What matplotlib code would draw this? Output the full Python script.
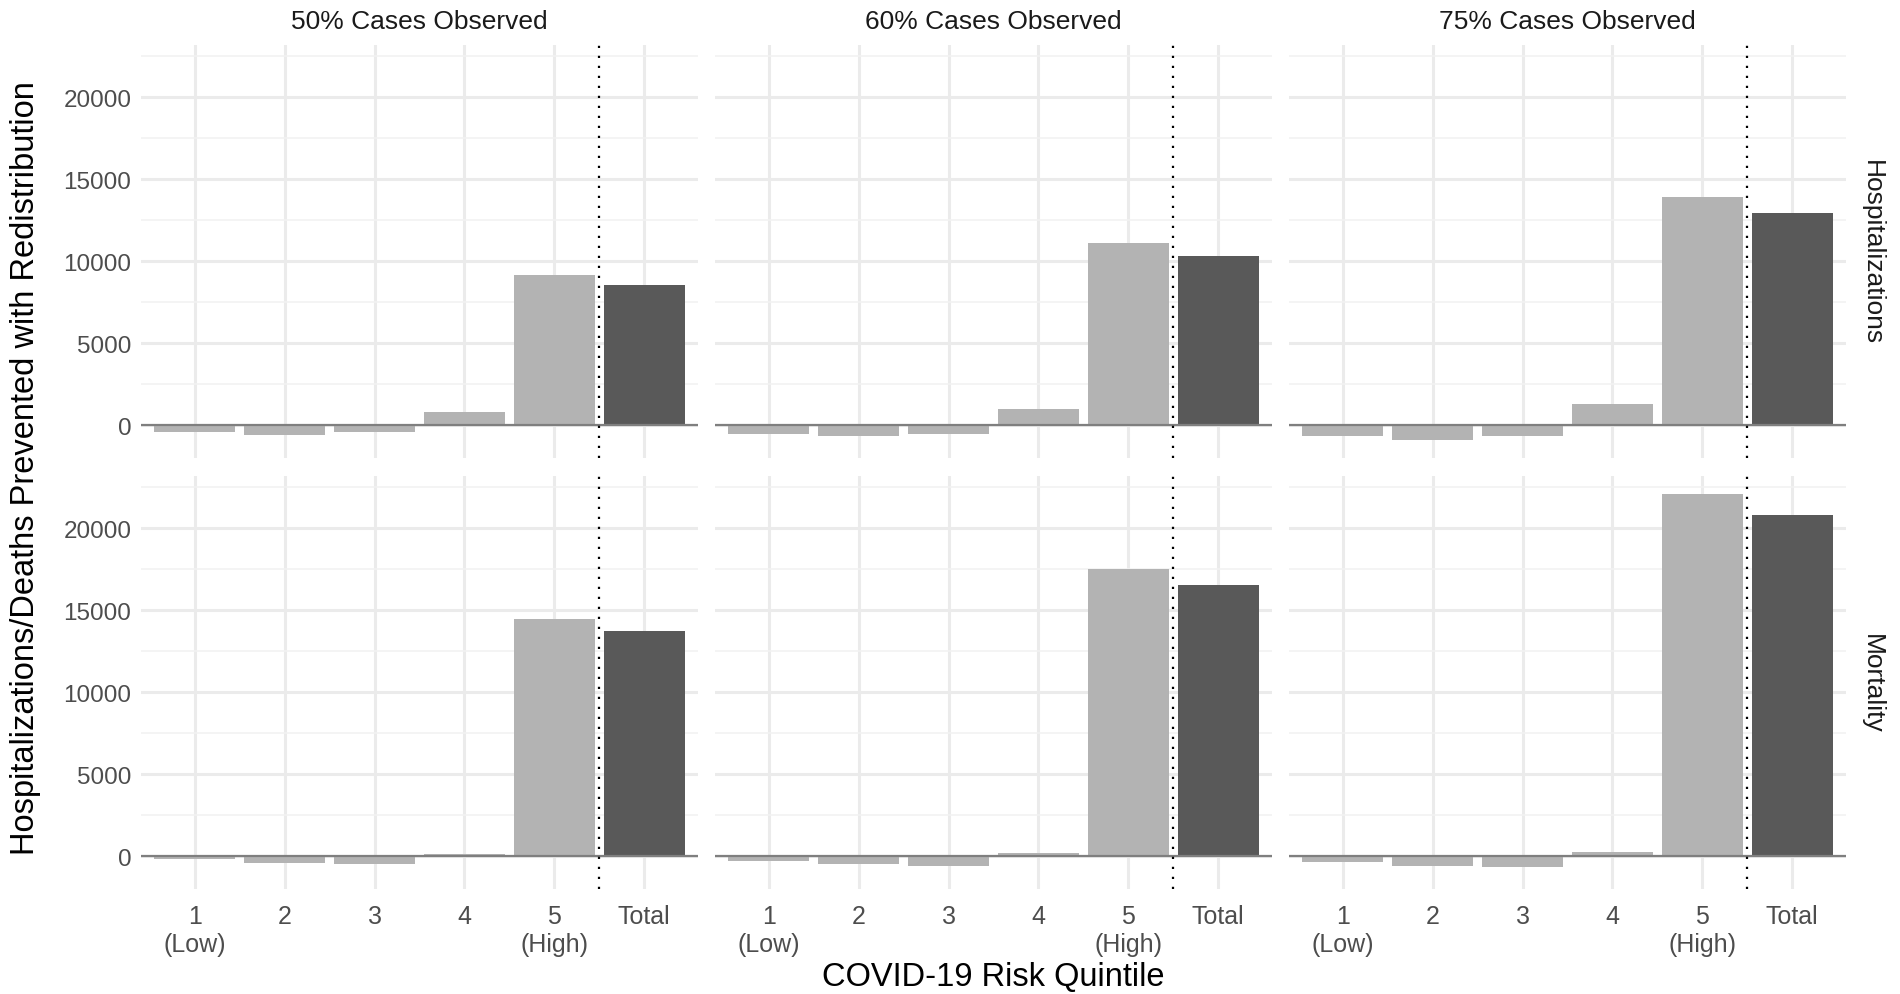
import numpy as np
import matplotlib.pyplot as plt

plt.rcParams['font.family'] = ['Liberation Sans', 'DejaVu Sans']

categories = ['1\n(Low)', '2', '3', '4', '5\n(High)', 'Total']
observed = ['50% Cases Observed', '60% Cases Observed', '75% Cases Observed']
outcomes = ['Hospitalizations', 'Mortality']

# values, one list per panel
hosp_50 = [-400, -570, -400, 810, 9170, 8580]
hosp_60 = [-510, -670, -510, 1020, 11100, 10350]
hosp_75 = [-670, -900, -670, 1280, 13900, 12940]
mort_50 = [-160, -370, -470, 160, 14460, 13730]
mort_60 = [-245, -450, -570, 230, 17490, 16530]
mort_75 = [-305, -570, -670, 290, 22070, 20810]

panels = [[hosp_50, hosp_60, hosp_75], [mort_50, mort_60, mort_75]]

W, H = 1900, 995
fig = plt.figure(figsize=(19, 9.95), dpi=100)

lefts = [141, 715, 1289]
pw = 557
tops = [46, 477]
ph = 413

allv = np.concatenate([np.array(p) for row in panels for p in row])
span = allv.max() - allv.min()
ylo, yhi = allv.min() - 0.047 * span, allv.max() + 0.048 * span

x = np.arange(len(categories))
colors = ['#B3B3B3'] * 5 + ['#595959']

for r, row in enumerate(panels):
    for c, vals in enumerate(row):
        ax = fig.add_axes([lefts[c] / W, 1 - (tops[r] + ph) / H, pw / W, ph / H])
        ax.set_xlim(-0.6, len(categories) - 0.4)
        ax.set_ylim(ylo, yhi)
        for s in ax.spines.values():
            s.set_visible(False)
        ax.set_yticks([0, 5000, 10000, 15000, 20000])
        ax.set_yticks([2500, 7500, 12500, 17500, 22500], minor=True)
        ax.set_xticks(x)
        ax.grid(True, which='major', color='#EBEBEB', lw=2.2)
        ax.grid(True, which='minor', axis='y', color='#F2F2F2', lw=1.2)
        ax.set_axisbelow(True)
        ax.tick_params(which='both', length=0)
        ax.tick_params(axis='y', labelsize=17.5, labelcolor='#4D4D4D', pad=7)
        ax.tick_params(axis='x', labelsize=18, labelcolor='#4D4D4D', pad=11)
        if c == 0:
            ax.set_yticklabels(['0', '5000', '10000', '15000', '20000'])
        else:
            ax.set_yticklabels([])
        if r == 1:
            ax.set_xticklabels(categories, linespacing=1.2, va='top')
        else:
            ax.set_xticklabels([])
        ax.bar(x, vals, width=0.9, color=colors, zorder=2)
        ax.axhline(0, color='#7F7F7F', lw=1.6, zorder=3)
        ax.axvline(4.5, color='black', lw=1.6, ls=(0, (1, 3.5)), zorder=4)
        if r == 0:
            fig.text((lefts[c] + pw / 2) / W, 1 - 22 / H, observed[c], ha='center',
                     va='center', fontsize=19, color='#1A1A1A')
        if c == 2:
            fig.text(1872 / W, 1 - (tops[r] + ph / 2) / H, outcomes[r], ha='center',
                     va='center', rotation=-90, fontsize=19, color='#1A1A1A')

fig.text(26 / W, 1 - 468 / H, 'Hospitalizations/Deaths Prevented with Redistribution',
         rotation=90, ha='center', va='center', fontsize=23.5)
fig.text(993 / W, 1 - 978 / H, 'COVID-19 Risk Quintile', ha='center', va='center',
         fontsize=23.5)

fig.savefig('out.png', dpi=100, facecolor='white')
